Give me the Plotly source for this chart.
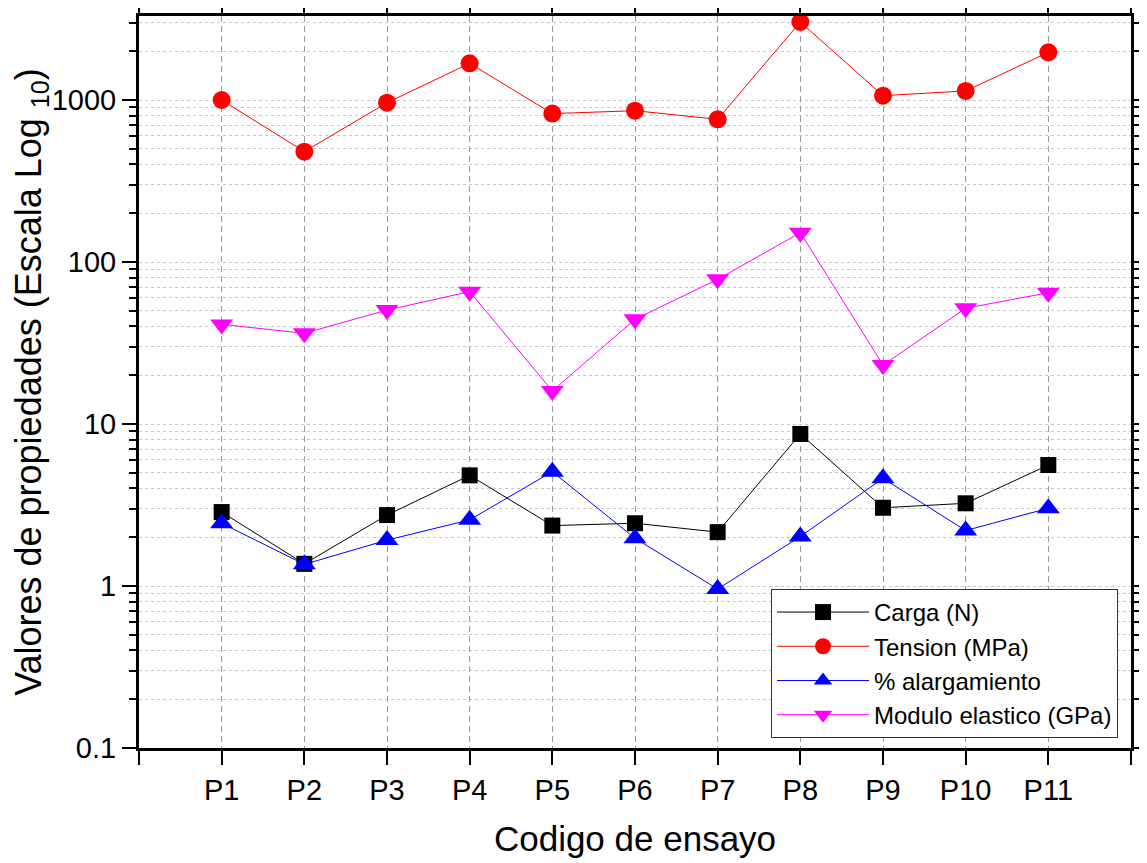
import plotly.graph_objects as go

categories = ["P1", "P2", "P3", "P4", "P5", "P6", "P7", "P8", "P9", "P10", "P11"]
carga = [2.86, 1.37, 2.74, 4.82, 2.36, 2.44, 2.15, 8.68, 3.04, 3.24, 5.58]
tension = [1000, 480, 962, 1684, 824, 859, 760, 3030, 1064, 1137, 1968]
alargamiento = [2.44, 1.36, 1.92, 2.56, 5.08, 1.97, 0.958, 2.02, 4.62, 2.2, 3.02]
modulo = [41.2, 36.3, 50.5, 65.6, 16.0, 44.3, 78.2, 151.7, 23.1, 51.8, 64.6]

x_idx = list(range(1, len(categories) + 1))

FONT = "Arial, Liberation Sans, sans-serif"

fig = go.Figure()
series = [
    ("Carga (N)", carga, "black", "square", 16),
    ("Tension (MPa)", tension, "red", "circle", 18),
    ("% alargamiento", alargamiento, "blue", "triangle-up", 20),
    ("Modulo elastico (GPa)", modulo, "magenta", "triangle-down", 20),
]
for name, vals, color, sym, size in series:
    fig.add_trace(go.Scatter(
        x=x_idx, y=vals, name=name, mode="lines+markers",
        line=dict(color=color, width=1),
        marker=dict(symbol=sym, size=size, color=color, line=dict(width=0)),
    ))

fig.update_layout(
    width=1147, height=863,
    margin=dict(l=131, r=24, t=8, b=123),
    paper_bgcolor="white", plot_bgcolor="white",
    font=dict(family=FONT, color="black"),
    showlegend=True,
    legend=dict(
        x=0.9869, xanchor="right", y=0.0137, yanchor="bottom",
        font=dict(size=24, family=FONT, color="black"),
        bgcolor="white", bordercolor="#333333", borderwidth=1,
        itemwidth=92, tracegroupgap=0,
    ),
    xaxis=dict(
        range=[0, len(categories) + 1],
        tickmode="array", tickvals=x_idx, ticktext=categories,
        ticks="outside", ticklen=14, tickwidth=2, tickcolor="black",
        minor=dict(ticks="outside", ticklen=14, tickwidth=2, tickcolor="black",
                   tick0=0, dtick=len(categories) + 1, showgrid=False),
        showline=True, linecolor="black", linewidth=3, mirror="allticks",
        showgrid=True, gridcolor="#9a9a9a", gridwidth=1, griddash="6px,4px",
        zeroline=False, automargin=False,
        tickfont=dict(size=29, family=FONT, color="black"),
        title=dict(text="Codigo de ensayo", font=dict(size=35, family=FONT, color="black"), standoff=22),
    ),
    yaxis=dict(
        type="log", range=[-1, 3.5185],
        tickmode="array", tickvals=[0.1, 1, 10, 100, 1000], ticktext=["0.1", "1", "10", "100", "1000"],
        ticks="outside", ticklen=14, tickwidth=2, tickcolor="black",
        showline=True, linecolor="black", linewidth=3, mirror="allticks",
        showgrid=False, zeroline=False, automargin=False,
        minor=dict(ticks="outside", ticklen=7, tickwidth=2, tickcolor="black",
                   dtick="D1", showgrid=True, gridcolor="#c8c8c8", gridwidth=1, griddash="3px,3px"),
        tickfont=dict(size=29, family=FONT, color="black"),
        title=dict(text="Valores de propiedades (Escala Log <sub>10</sub>)",
                   font=dict(size=36, family=FONT, color="black"), standoff=2),
    ),
)

fig.write_html("out.html")
